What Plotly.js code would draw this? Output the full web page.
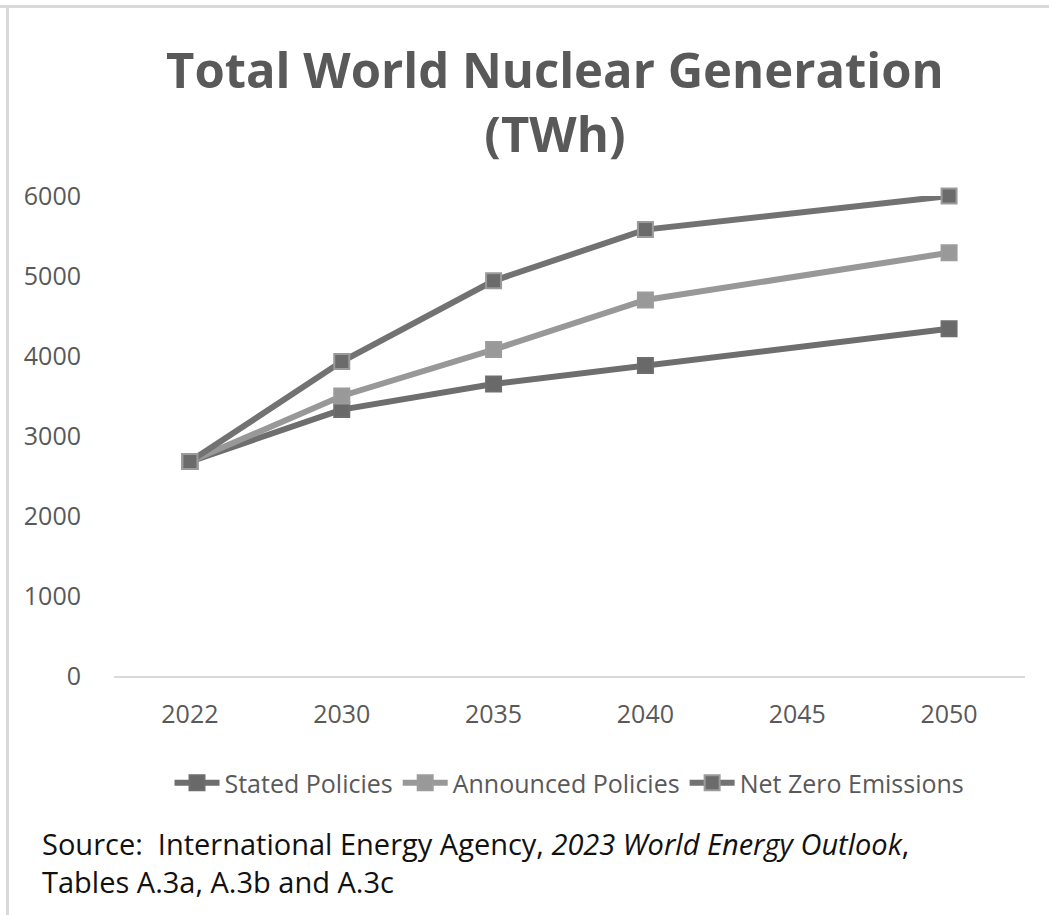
<!DOCTYPE html>
<html>
<head>
<meta charset="utf-8">
<script src="https://cdn.plot.ly/plotly-3.0.1.min.js"></script>
<style>
  html, body { margin: 0; padding: 0; background: #ffffff; }
  #wrap { position: relative; width: 1049px; height: 915px; overflow: hidden; }
  #frameTop { position: absolute; left: 0; top: 5px; width: 1049px; height: 3px; background: #d9d9d9; }
  #frameLeft { position: absolute; left: 6px; top: 5px; width: 3px; height: 910px; background: #d9d9d9; }
  #chart { position: absolute; left: 0; top: 0; width: 1049px; height: 915px; }
</style>
</head>
<body>
<div id="wrap">
  <div id="chart"></div>
  <div id="frameTop"></div>
  <div id="frameLeft"></div>
</div>
<script>
// ---- data ----
const years = ['2022', '2030', '2035', '2040', '2045', '2050'];
const statedPolicies    = [2680, 3330, 3650, 3880, null, 4340];
const announcedPolicies = [2680, 3500, 4080, 4700, null, 5290];
const netZeroEmissions  = [2680, 3930, 4940, 5580, null, 6000];
const seriesNames = ['Stated Policies', 'Announced Policies', 'Net Zero Emissions'];
const yTicks = [0, 1000, 2000, 3000, 4000, 5000, 6000];

const FONT = '"Open Sans", Lato, "Noto Sans", sans-serif';

function series(name, values, lineColor, markerColor, markerLine) {
  return {
    type: 'scatter',
    mode: 'lines+markers',
    name: name,
    x: years,
    y: values,
    connectgaps: true,
    cliponaxis: false,
    line: { color: lineColor, width: 6 },
    marker: { symbol: 'square', size: 15, color: markerColor,
              line: { color: markerLine, width: 2 } }
  };
}

const traces = [
  series(seriesNames[0], statedPolicies, '#6e6e6e', '#696969', '#6e6e6e'),
  series(seriesNames[1], announcedPolicies, '#989898', '#999999', '#9c9c9c'),
  series(seriesNames[2], netZeroEmissions, '#727272', '#6b6b6b', '#9b9b9b')
];

const layout = {
  width: 1049,
  height: 915,
  paper_bgcolor: 'rgba(0,0,0,0)',
  plot_bgcolor: 'rgba(0,0,0,0)',
  margin: { l: 114, r: 24, t: 196, b: 239, pad: 0 },
  font: { family: FONT, color: '#595959' },
  title: {
    text: '<b>Total World Nuclear Generation<br>(TWh)</b>',
    font: { family: FONT, size: 49, color: '#595959' },
    xref: 'paper', x: 0.484, xanchor: 'center',
    yref: 'container', y: 0.904, yanchor: 'top'
  },
  xaxis: {
    type: 'category',
    categoryorder: 'array',
    categoryarray: years,
    range: [-0.5, 5.5],
    showgrid: false,
    zeroline: false,
    showline: true,
    linecolor: '#d9d9d9',
    linewidth: 2,
    ticks: 'outside',
    ticklen: 15,
    tickcolor: 'rgba(0,0,0,0)',
    tickfont: { family: FONT, size: 25, color: '#595959' },
    fixedrange: true
  },
  yaxis: {
    range: [0, 6000],
    tickvals: yTicks,
    ticktext: yTicks.map(String),
    showgrid: false,
    zeroline: false,
    showline: false,
    ticks: 'outside',
    ticklen: 27,
    tickcolor: 'rgba(0,0,0,0)',
    tickfont: { family: FONT, size: 25, color: '#595959' },
    fixedrange: true
  },
  showlegend: true,
  legend: {
    orientation: 'h',
    xref: 'paper', x: 0.5, xanchor: 'center',
    yref: 'paper', y: -0.223, yanchor: 'middle',
    font: { family: FONT, size: 25, color: '#595959' },
    itemwidth: 45,
    traceorder: 'normal',
    bgcolor: 'rgba(0,0,0,0)'
  },
  annotations: [{
    xref: 'paper', yref: 'paper',
    x: -0.081, y: -0.305,
    xanchor: 'left', yanchor: 'top',
    align: 'left',
    showarrow: false,
    text: 'Source:  International Energy Agency, <i>2023 World Energy Outlook</i>,<br>Tables A.3a, A.3b and A.3c',
    font: { family: FONT, size: 29, color: '#111111' }
  }]
};

Plotly.newPlot('chart', traces, layout, { displayModeBar: false, staticPlot: true });
</script>
</body>
</html>
